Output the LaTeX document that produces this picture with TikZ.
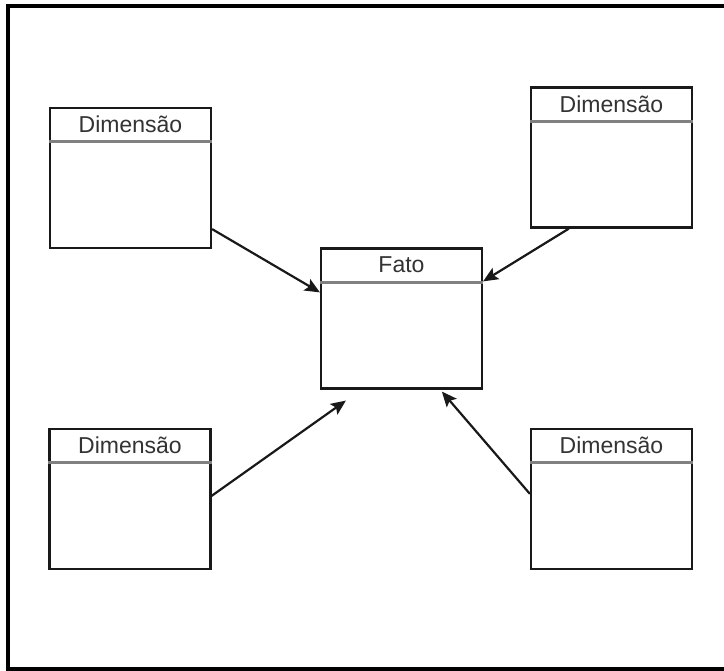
\documentclass[tikz,border=0pt]{standalone}
\usepackage{fontspec}
\setmainfont{Liberation Sans}
\usetikzlibrary{arrows.meta}

\begin{document}
\begin{tikzpicture}[x=1pt,y=-1pt]
\useasboundingbox (0,0) rectangle (724,671);

\tikzset{TabelaStyle/.style={draw=black!90,line width=2.2pt,fill=white,
  minimum width=161pt,minimum height=140pt,inner sep=0pt}}
\tikzset{TituloStyle/.style={text=black!80,font=\fontsize{23}{27}\selectfont,inner sep=0pt}}
\tikzset{CabecaStyle/.style={draw=black!50,line width=3pt}}

\draw[line width=3.5pt] (724,6) -- (8,6) -- (8,669) -- (724,669);

\node[TabelaStyle] (d1) at (130.5,178) {};
\node[TabelaStyle] (d2) at (611.5,157.5) {};
\node[TabelaStyle] (d3) at (130,499) {};
\node[TabelaStyle] (d4) at (611.5,499) {};
\node[TabelaStyle] (fato) at (401.5,318.5) {};

\draw[CabecaStyle] ([yshift=-35pt]d1.north west) -- ([yshift=-35pt]d1.north east);
\draw[CabecaStyle] ([yshift=-35pt]d2.north west) -- ([yshift=-35pt]d2.north east);
\draw[CabecaStyle] ([yshift=-35pt]d3.north west) -- ([yshift=-35pt]d3.north east);
\draw[CabecaStyle] ([yshift=-35pt]d4.north west) -- ([yshift=-35pt]d4.north east);
\draw[CabecaStyle] ([yshift=-35pt]fato.north west) -- ([yshift=-35pt]fato.north east);

\node[TituloStyle] (t1) at ([yshift=-17.5pt]d1.north) {Dimensão};
\node[TituloStyle] (t2) at ([yshift=-17.5pt]d2.north) {Dimensão};
\node[TituloStyle] (t3) at ([yshift=-17.5pt]d3.north) {Dimensão};
\node[TituloStyle] (t4) at ([yshift=-17.5pt]d4.north) {Dimensão};
\node[TituloStyle] (tf) at ([yshift=-17.5pt]fato.north) {Fato};

\tikzset{EdgeStyle/.style={draw=black!90,line width=2.2pt,-{Stealth[length=15pt,width=13pt,inset=3pt]}}}
\draw[EdgeStyle] ([yshift=20pt]d1.south east) -- ([yshift=-45pt]fato.north west);
\draw[EdgeStyle] ([xshift=39pt]d2.south west) -- ([yshift=-34pt]fato.north east);
\draw[EdgeStyle] ([yshift=-68pt]d3.north east) -- ([xshift=26pt,yshift=-11pt]fato.south west);
\draw[EdgeStyle] ([yshift=-66pt]d4.north west) -- ([xshift=122pt,yshift=-2pt]fato.south west);
\end{tikzpicture}
\end{document}
